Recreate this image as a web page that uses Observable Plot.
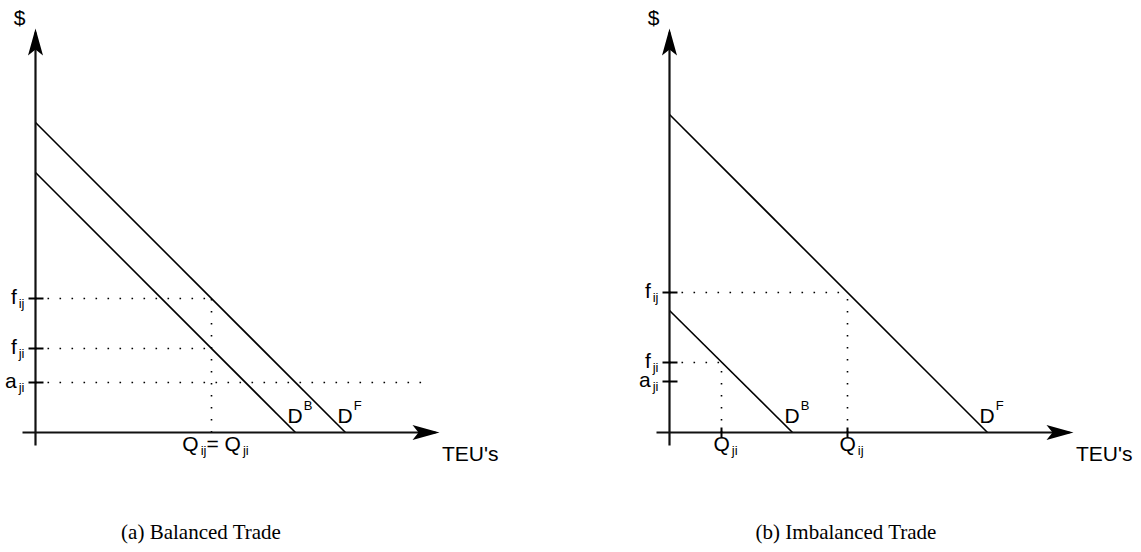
<!DOCTYPE html>
<html><head><meta charset="utf-8">
<script src="https://cdn.jsdelivr.net/npm/d3@7"></script>
<script src="https://cdn.jsdelivr.net/npm/@observablehq/plot@0.6"></script>
<style>
body{margin:0;background:#fff;}
#wrap{position:relative;width:1141px;height:552px;overflow:hidden;background:#fff;}
.panel{position:absolute;top:0;}
.cap{position:absolute;top:520px;font-family:"Liberation Serif","Times New Roman",serif;font-size:21px;line-height:24px;text-align:center;color:#000;white-space:nowrap;}
</style></head><body>
<div id="wrap"></div>
<script>
// ---- shared axis extent (abstract units) ----
const axisStart = -3.25;
const axisEnd = 101;
const yAxisLabel = "$";
const xAxisLabel = "TEU's";

// ---- (a) Balanced Trade ----
const aCaption = "(a) Balanced Trade";
const aCurveNames = ["D^{F}", "D^{B}"];
const aCurvePriceIntercepts = [77.5, 65];
const aCurveQuantityIntercepts = [77.5, 65];
const aPriceLabels = ["f_{ij}", "f_{ji}", "a_{ji}"];
const aPriceValues = [33.5, 21, 12.5];
const aPriceGuideEnds = [44, 44, 97.5];
const aQuantityLabels = ["Q_{ij}= Q_{ji}"];
const aQuantityValues = [44];
const aQuantityGuideTops = [33.5];

// ---- (b) Imbalanced Trade ----
const bCaption = "(b) Imbalanced Trade";
const bCurveNames = ["D^{F}", "D^{B}"];
const bCurvePriceIntercepts = [79.5, 30.5];
const bCurveQuantityIntercepts = [79.5, 30.75];
const bPriceLabels = ["f_{ij}", "f_{ji}", "a_{ji}"];
const bPriceValues = [35, 17.5, 12.75];
const bPriceGuideEnds = [44.5, 13, null];
const bQuantityLabels = ["Q_{ij}", "Q_{ji}"];
const bQuantityValues = [44.5, 13];
const bQuantityGuideTops = [35, 17.5];

// ---- custom symbols ----
const arrowHead = {draw(ctx) { ctx.moveTo(0, 0); ctx.lineTo(7.5, 27); ctx.lineTo(0, 21); ctx.lineTo(-7.5, 27); ctx.closePath(); }};
const hTick = {draw(ctx) { ctx.moveTo(-7, 0); ctx.lineTo(8, 0); }};
const vTick = {draw(ctx) { ctx.moveTo(0, -5); ctx.lineTo(0, 5); }};

function richText(svg) {
  d3.select(svg).selectAll("text").each(function() {
    const s = this.textContent;
    if (!/[_^]\{/.test(s)) return;
    const parts = s.split(/([_^]\{[^}]*\})/).filter(p => p);
    this.textContent = "";
    let shift = 0;
    for (const p of parts) {
      let target = 0, txt = p, small = false, dx = 0;
      if (p.startsWith("_{")) { target = 4; txt = p.slice(2, -1); small = true; dx = 2; }
      else if (p.startsWith("^{")) { target = -13; txt = p.slice(2, -1); small = true; dx = 1; }
      const t = d3.select(this).append("tspan").attr("dy", target - shift).text(txt);
      if (dx) t.attr("dx", dx);
      if (small) t.attr("font-size", 13);
      shift = target;
    }
  });
}

function panel(cfg) {
  const curves = cfg.curveNames.map((name, i) => ({name, p: cfg.pInt[i], q: cfg.qInt[i]}));
  const levels = cfg.priceLabels.map((label, i) => ({label, price: cfg.priceValues[i], end: cfg.guideEnds[i]}));
  const quantities = cfg.quantityLabels.map((label, i) => ({label, q: cfg.quantityValues[i], top: cfg.guideTops[i]}));
  const dotted = {stroke: "black", strokeWidth: 1.6, strokeDasharray: "1.6 10.4"};
  const txt = {fontSize: 21, fill: "black", fontFamily: "Liberation Sans, Arial, sans-serif"};
  const svg = Plot.plot({
    width: cfg.width, height: 500,
    marginLeft: cfg.marginLeft, marginRight: cfg.marginRight, marginTop: 28, marginBottom: 68,
    x: {domain: [0, axisEnd], axis: null},
    y: {domain: [0, axisEnd], axis: null},
    style: {background: "transparent", overflow: "visible"},
    marks: [
      Plot.link(levels.filter(d => d.end != null), {x1: 0, x2: "end", y1: "price", y2: "price", ...dotted}),
      Plot.link(quantities, {x1: "q", x2: "q", y1: 0, y2: "top", ...dotted}),
      Plot.link(curves, {x1: 0, y1: "p", x2: "q", y2: 0, stroke: "black", strokeWidth: 1.6}),
      Plot.link([0], {x1: 0, x2: 0, y1: axisStart, y2: axisEnd - 1, stroke: "#111", strokeWidth: 2.2}),
      Plot.link([0], {x1: axisStart, x2: axisEnd - 1, y1: 0, y2: 0, stroke: "#111", strokeWidth: 2.2}),
      Plot.dot([0], {x: 0, y: axisEnd, symbol: arrowHead, fill: "black", stroke: "none"}),
      Plot.dot([0], {x: axisEnd, y: 0, symbol: arrowHead, fill: "black", stroke: "none", rotate: 90}),
      Plot.dot(levels, {x: 0, y: "price", symbol: hTick, stroke: "black", strokeWidth: 2, fill: "none"}),
      cfg.quantityTicks ? Plot.dot(quantities, {x: "q", y: 0, symbol: vTick, stroke: "black", strokeWidth: 2, fill: "none"}) : null,
      Plot.text(levels, {x: 0, y: "price", text: "label", textAnchor: "end", dx: -11, dy: -1.5, ...txt}),
      Plot.text(quantities, {x: "q", y: 0, text: "label", textAnchor: "middle", dx: 4, dy: 12, ...txt}),
      Plot.text(curves, {x: "q", y: 0, text: "name", textAnchor: "start", dx: -8, dy: -16, ...txt}),
      Plot.text([yAxisLabel], {x: 0, y: axisEnd, text: d => d, textAnchor: "middle", dx: -16, dy: -10.4, ...txt}),
      Plot.text([xAxisLabel], {x: axisEnd, y: 0, text: d => d, textAnchor: "start", dx: 2.5, dy: 22, ...txt})
    ].filter(Boolean)
  });
  richText(svg);
  svg.classList.add("panel");
  svg.style.left = cfg.left + "px";
  return svg;
}

const wrap = document.getElementById("wrap");
wrap.append(panel({
  left: 0, width: 570, marginLeft: 35, marginRight: 131,
  curveNames: aCurveNames, pInt: aCurvePriceIntercepts, qInt: aCurveQuantityIntercepts,
  priceLabels: aPriceLabels, priceValues: aPriceValues, guideEnds: aPriceGuideEnds,
  quantityLabels: aQuantityLabels, quantityValues: aQuantityValues, guideTops: aQuantityGuideTops,
  quantityTicks: false
}));
wrap.append(panel({
  left: 570, width: 571, marginLeft: 99, marginRight: 68,
  curveNames: bCurveNames, pInt: bCurvePriceIntercepts, qInt: bCurveQuantityIntercepts,
  priceLabels: bPriceLabels, priceValues: bPriceValues, guideEnds: bPriceGuideEnds,
  quantityLabels: bQuantityLabels, quantityValues: bQuantityValues, guideTops: bQuantityGuideTops,
  quantityTicks: true
}));
for (const [text, center] of [[aCaption, 201], [bCaption, 846]]) {
  const c = document.createElement("div");
  c.className = "cap";
  c.textContent = text;
  c.style.left = (center - 200) + "px";
  c.style.width = "400px";
  wrap.append(c);
}
</script>
</body></html>
